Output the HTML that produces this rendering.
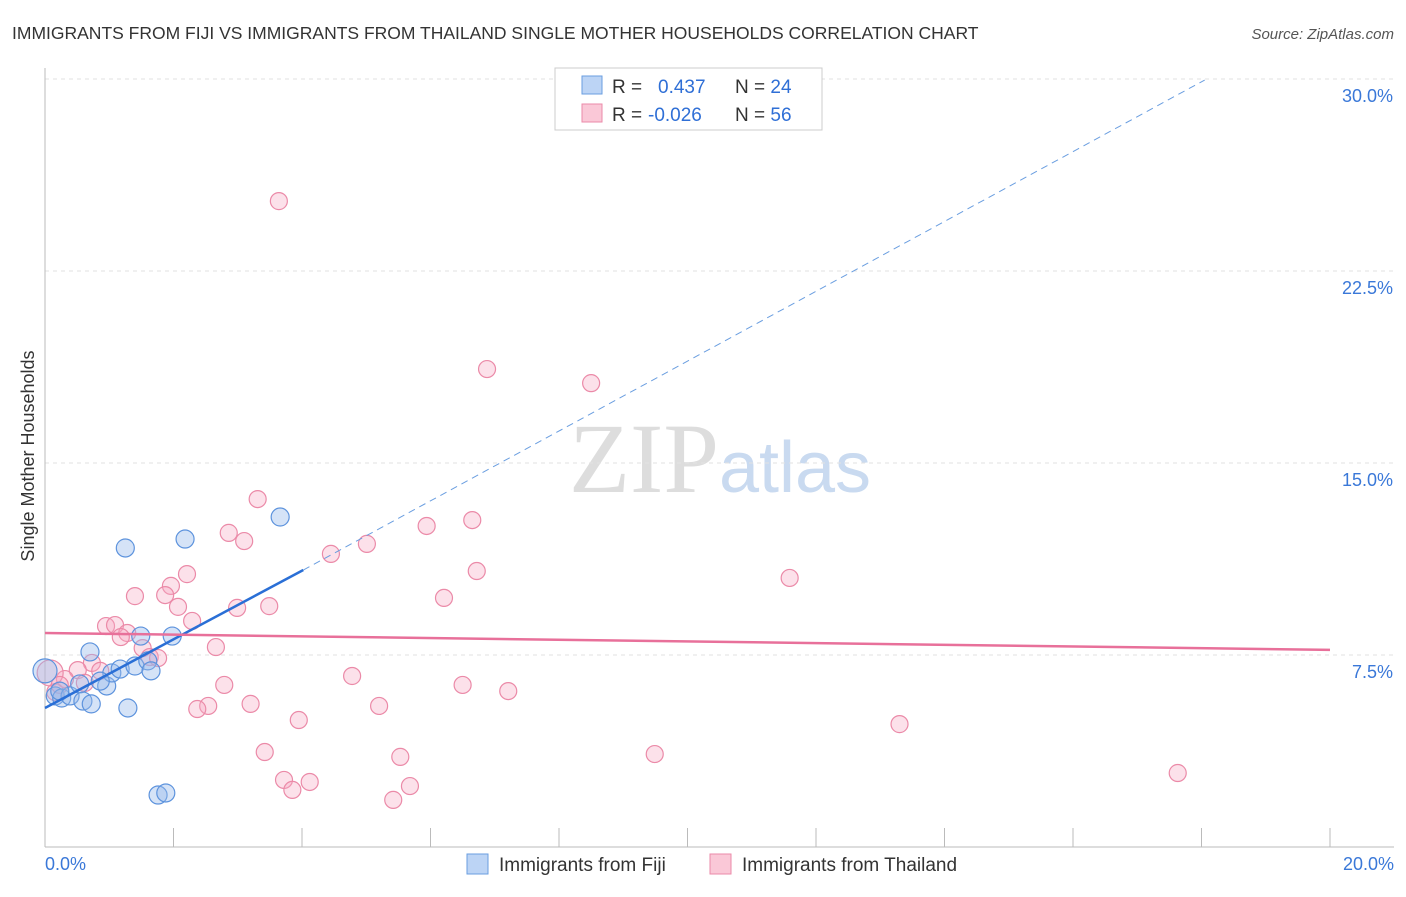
<!DOCTYPE html>
<html><head><meta charset="utf-8"><style>
body{margin:0;background:#fff;font-family:"Liberation Sans",sans-serif;}
</style></head><body>
<svg width="1406" height="892" xmlns="http://www.w3.org/2000/svg" font-family="Liberation Sans, sans-serif">
<text x="12" y="39" font-size="17.5" fill="#333">IMMIGRANTS FROM FIJI VS IMMIGRANTS FROM THAILAND SINGLE MOTHER HOUSEHOLDS CORRELATION CHART</text>
<text x="1394" y="39" font-size="15" fill="#555" font-style="italic" text-anchor="end">Source: ZipAtlas.com</text>
<text x="34" y="456" font-size="18" fill="#333" transform="rotate(-90 34 456)" text-anchor="middle">Single Mother Households</text>
<text x="720" y="492" font-size="100" fill="#ddd" text-anchor="middle" font-family="Liberation Serif, serif">ZIP<tspan fill="#c9daf0" font-family="Liberation Sans, sans-serif" font-size="72">atlas</tspan></text>
<g id="grid"></g><g id="axes"></g><g id="pts"></g><g id="lines"></g>
<g>
<rect x="555" y="68" width="267" height="62" fill="#fff" stroke="#ccc"/>
<rect x="582" y="76" width="20" height="18" fill="#bcd4f5" stroke="#6a9ee0"/>
<rect x="582" y="104" width="20" height="18" fill="#fac8d7" stroke="#eb8aa8"/>
<text x="612" y="93" font-size="19" fill="#333">R = <tspan x="658" fill="#2f6fd6">0.437</tspan><tspan x="735" fill="#333">N = </tspan><tspan fill="#2f6fd6">24</tspan></text>
<text x="612" y="121" font-size="19" fill="#333">R = <tspan x="648" fill="#2f6fd6">-0.026</tspan><tspan x="735" fill="#333">N = </tspan><tspan fill="#2f6fd6">56</tspan></text>
</g>
<g>
<rect x="467" y="854" width="21" height="20" fill="#bcd4f5" stroke="#6a9ee0"/>
<text x="499" y="871" font-size="19" fill="#333">Immigrants from Fiji</text>
<rect x="710" y="854" width="21" height="20" fill="#fac8d7" stroke="#eb8aa8"/>
<text x="742" y="871" font-size="19" fill="#333">Immigrants from Thailand</text>
</g>
</svg>
<script>
const yTicks=[7.5,15,22.5,30];
const yTickLabels=["7.5%","15.0%","22.5%","30.0%"];
const xTickLabels=["0.0%","20.0%"];
const fijiX=[0,0.16,0.26,0.39,0.54,0.59,0.72,0.70,0.96,1.04,1.17,1.29,1.40,1.49,1.60,1.65,1.98,1.25,2.18,3.66,1.76,1.88,0.86,0.23];
const fijiY=[6.88,5.90,5.82,5.90,6.37,5.70,5.59,7.62,6.29,6.80,6.95,5.43,7.07,8.24,7.27,6.88,8.24,11.68,12.03,12.89,2.03,2.11,6.48,6.09];
const fijiR=[12,9,9,9,9,9,9,9,9,9,9,9,9,9,9,9,9,9,9,9,9,9,9,9];
const thaiX=[3.64,6.88,8.50,3.31,2.86,3.10,6.65,5.94,5.01,4.45,6.72,11.59,2.21,1.96,1.40,1.87,2.07,2.99,3.49,6.21,2.29,0.95,1.09,1.28,1.18,1.52,1.63,1.76,2.66,0.73,0.51,0.86,0.31,0.62,0.08,0.16,2.79,4.78,6.50,7.21,2.54,2.37,3.20,5.20,3.95,13.30,3.42,5.53,9.49,3.72,4.12,3.85,5.68,5.42,17.63,0.23];
const thaiY=[25.23,18.67,18.12,13.59,12.27,11.95,12.77,12.54,11.84,11.45,10.78,10.51,10.66,10.20,9.80,9.84,9.38,9.34,9.41,9.73,8.83,8.63,8.67,8.36,8.20,7.77,7.42,7.38,7.81,7.19,6.91,6.88,6.56,6.41,6.80,6.05,6.33,6.68,6.33,6.09,5.51,5.39,5.59,5.51,4.96,4.80,3.71,3.52,3.63,2.62,2.54,2.23,2.38,1.84,2.89,6.33];
const fijiFit=[[0,5.43],[4.02,10.82],[18.05,29.96]];
const thaiFit=[[0,8.36],[20,7.70]];
const NS="http://www.w3.org/2000/svg";
const X=v=>45+v/20*1285, Y=v=>847-v/7.5*192;
function mk(t,a,p){const e=document.createElementNS(NS,t);for(const k in a)e.setAttribute(k,a[k]);p.appendChild(e);return e;}
const grid=document.getElementById('grid'),axes=document.getElementById('axes'),pts=document.getElementById('pts'),lines=document.getElementById('lines');
yTicks.forEach((t,i)=>{
 const l=mk('line',{x1:45,x2:1394,y1:Y(t),y2:Y(t),stroke:'#e2e2e2','stroke-dasharray':'4,4'},grid);
 
 
 const tx=mk('text',{x:1393,y:Y(t)+23,'font-size':18,fill:'#3a78d8','text-anchor':'end'},axes);tx.textContent=yTickLabels[i];
 
 
});
const ya=mk('line',{x1:45,x2:45,y1:68,y2:847,stroke:'#bbb'},axes);


const xa=mk('line',{x1:45,x2:1394,y1:847,y2:847,stroke:'#bbb'},axes);


for(let i=0;i<=10;i++){const tk=mk('line',{x1:X(i*2),x2:X(i*2),y1:828,y2:847,stroke:'#bbb'},axes);
 
 }
[[0,'start',45],[1,'end',1394]].forEach(([i,a,x])=>{const t=mk('text',{x:x,y:870,'font-size':18,fill:'#3a78d8','text-anchor':a},axes);t.textContent=xTickLabels[i];
 
 });
thaiX.forEach((v,i)=>{const c=mk('circle',{cx:X(v),cy:Y(thaiY[i]),r:i==34?13:8.5,fill:'rgba(246,170,195,0.35)',stroke:'#eb8aa8','stroke-width':1.2},pts);
 
 });
fijiX.forEach((v,i)=>{const c=mk('circle',{cx:X(v),cy:Y(fijiY[i]),r:fijiR[i],fill:'rgba(150,185,235,0.4)',stroke:'#5d93dd','stroke-width':1.2},pts);
 
 });
const fs=mk('line',{x1:X(fijiFit[0][0]),y1:Y(fijiFit[0][1]),x2:X(fijiFit[1][0]),y2:Y(fijiFit[1][1]),stroke:'#2a6fd6','stroke-width':2.5},lines);


const fd=mk('line',{x1:X(fijiFit[1][0]),y1:Y(fijiFit[1][1]),x2:X(fijiFit[2][0]),y2:Y(fijiFit[2][1]),stroke:'#6a9ee0','stroke-width':1,'stroke-dasharray':'7,5'},lines);


const tl=mk('line',{x1:X(thaiFit[0][0]),y1:Y(thaiFit[0][1]),x2:X(thaiFit[1][0]),y2:Y(thaiFit[1][1]),stroke:'#e8709a','stroke-width':2.5},lines);


</script>
</body></html>
